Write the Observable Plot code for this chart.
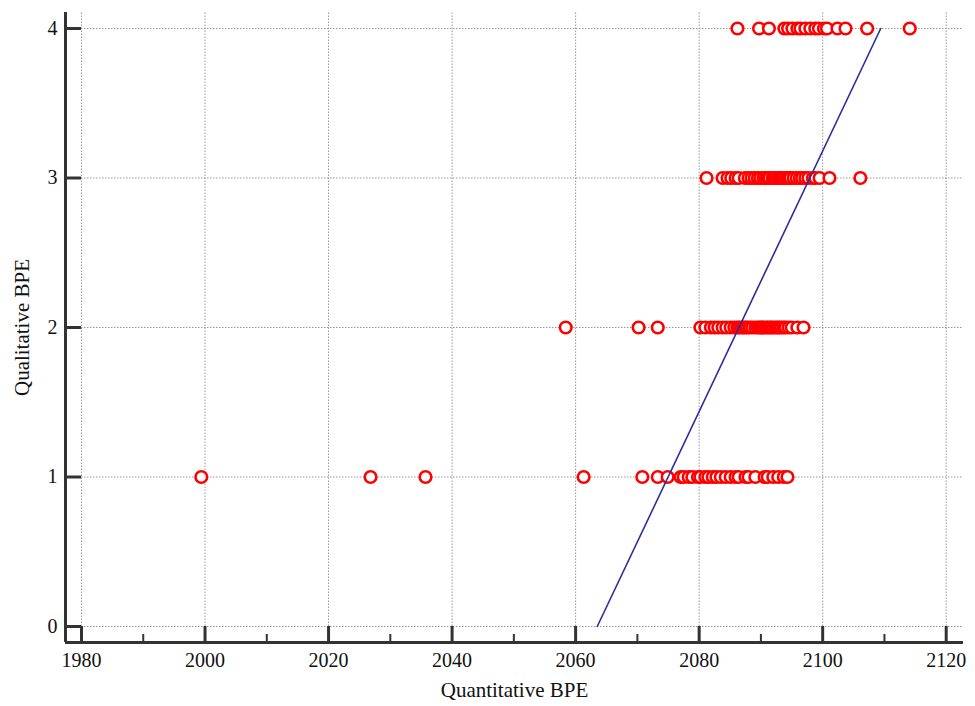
<!DOCTYPE html>
<html>
<head>
<meta charset="utf-8">
<script src="https://cdn.jsdelivr.net/npm/d3@7"></script>
<script src="https://cdn.jsdelivr.net/npm/@observablehq/plot@0.6"></script>
<style>
  body { margin: 0; background: #fff; }
  #chart svg { display: block; }
</style>
</head>
<body>
<div id="chart"></div>
<script>
// Tick labels
const xTicks = [1980, 2000, 2020, 2040, 2060, 2080, 2100, 2120];
const xMinorTicks = [1990, 2010, 2030, 2050, 2070, 2090, 2110];
const yTicks = [0, 1, 2, 3, 4];

// Quantitative BPE values for each qualitative category
const qual1 = [1999.4, 2026.8, 2035.7, 2061.3, 2070.8, 2073.3, 2074.9, 2077.0, 2077.5, 2078.3, 2078.9,
  2079.8, 2080.2, 2081.0, 2081.5, 2082.2, 2082.8, 2083.5, 2084.3, 2085.1, 2085.9, 2086.4, 2087.5,
  2088.0, 2089.1, 2090.6, 2091.1, 2092.0, 2092.8, 2093.7, 2094.3];
const qual2 = [2058.4, 2070.2, 2073.3, 2080.2, 2081.0, 2081.9, 2082.5, 2083.1, 2083.8, 2084.4, 2085.1,
  2085.7, 2086.2, 2086.5, 2086.9, 2087.2, 2087.5, 2087.8, 2088.2, 2088.6, 2089.1, 2089.5, 2089.8,
  2090.1, 2090.4, 2090.8, 2091.1, 2091.4, 2091.7, 2092.0, 2092.4, 2092.7, 2093.0, 2093.3, 2093.7,
  2094.0, 2094.5, 2095.0, 2095.9, 2096.9];
const qual3 = [2081.2, 2083.8, 2084.6, 2085.2, 2085.9, 2086.4, 2087.4, 2088.0, 2088.5, 2089.0, 2089.5,
  2089.9, 2090.4, 2090.8, 2091.1, 2091.4, 2091.9, 2092.2, 2092.5, 2092.9, 2093.2, 2093.5, 2093.8,
  2094.2, 2094.5, 2094.8, 2095.3, 2095.8, 2096.3, 2096.7, 2097.2, 2097.7, 2098.4, 2098.8, 2099.5,
  2101.1, 2106.1];
const qual4 = [2086.2, 2089.7, 2091.3, 2093.8, 2094.4, 2095.1, 2095.9, 2096.4, 2097.2, 2098.0, 2098.8,
  2099.4, 2100.2, 2100.7, 2102.4, 2103.7, 2107.2, 2114.1];

// Fitted line end points
const fitX = [2063.5, 2109.4];
const fitY = [0, 4];

const points = [
  ...qual1.map(x => ({x, y: 1})),
  ...qual2.map(x => ({x, y: 2})),
  ...qual3.map(x => ({x, y: 3})),
  ...qual4.map(x => ({x, y: 4}))
];
const fit = fitX.map((x, i) => ({x, y: fitY[i]}));

const W = 975, H = 706;
const mL = 65, mR = 12, mT = 12, mB = 64;
const frameW = W - mL - mR, frameH = H - mT - mB;
const xDom = [1977.41, 2122.8];
const yDom = [-0.107, 4.107];
const font = "'Liberation Serif', 'Times New Roman', serif";
const axisColor = "#333";
const gridColor = "#999";

const chart = Plot.plot({
  width: W,
  height: H,
  marginLeft: mL,
  marginRight: mR,
  marginTop: mT,
  marginBottom: mB,
  style: {fontFamily: font, background: "#fff"},
  x: {domain: xDom, axis: null, label: null},
  y: {domain: yDom, axis: null, label: null},
  marks: [
    // dotted grid
    Plot.ruleX(xTicks, {x: d => d, y1: 0, y2: yDom[1], stroke: gridColor, strokeWidth: 1, strokeDasharray: "1.5,1.5"}),
    Plot.ruleY(yTicks, {y: d => d, x1: 1980, x2: xDom[1], stroke: gridColor, strokeWidth: 1, strokeDasharray: "1.5,1.5"}),
    // axis lines
    Plot.ruleX([xDom[0]], {y1: yDom[0], y2: yDom[1], stroke: axisColor, strokeWidth: 3}),
    Plot.ruleY([yDom[0]], {x1: xDom[0], x2: xDom[1], stroke: axisColor, strokeWidth: 3}),
    // inward ticks
    Plot.tickX(xTicks, {x: d => d, insetTop: frameH - 16, stroke: axisColor, strokeWidth: 3}),
    Plot.tickX(xMinorTicks, {x: d => d, insetTop: frameH - 8, stroke: axisColor, strokeWidth: 2}),
    Plot.tickY(yTicks, {y: d => d, insetRight: frameW - 16, stroke: axisColor, strokeWidth: 3}),
    // tick labels
    Plot.axisX({ticks: xTicks, tickSize: 0, tickPadding: 10, tickFormat: d => String(d), label: null, fontSize: 20, fontFamily: font, fill: "#111"}),
    Plot.axisY({ticks: yTicks, tickSize: 0, tickPadding: 8, tickFormat: d => String(d), label: null, fontSize: 20, fontFamily: font, fill: "#111"}),
    // data
    Plot.dot(points, {x: "x", y: "y", r: 5.8, stroke: "#ff0000", strokeWidth: 2.6, fill: "#fff"}),
    Plot.line(fit, {x: "x", y: "y", stroke: "#2e2e9e", strokeWidth: 1.6}),
    // axis titles
    Plot.text(["Quantitative BPE"], {frameAnchor: "bottom", lineAnchor: "middle", textAnchor: "middle", dy: 48, fontSize: 21, fontFamily: font, fill: "#111"}),
    Plot.text(["Qualitative BPE"], {frameAnchor: "left", lineAnchor: "middle", textAnchor: "middle", dx: -43, rotate: -90, fontSize: 21, fontFamily: font, fill: "#111"})
  ]
});
document.getElementById("chart").appendChild(chart);
</script>
</body>
</html>
